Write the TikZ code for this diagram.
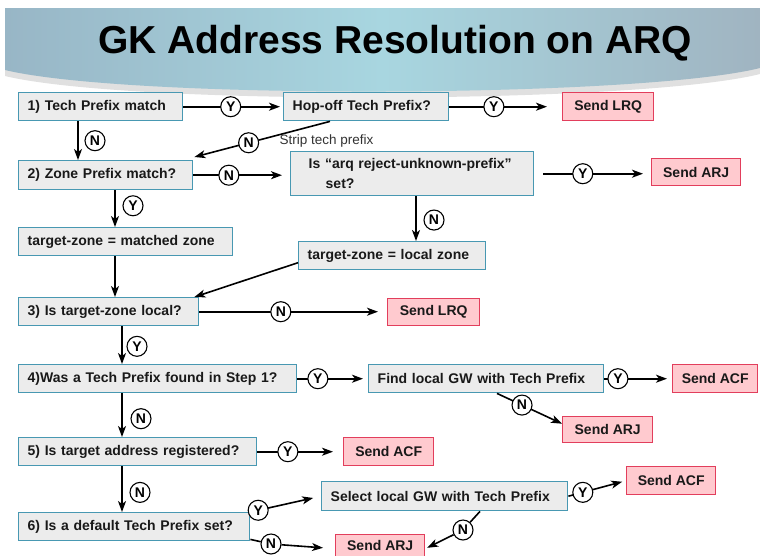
\documentclass[tikz,border=0pt]{standalone}
\usepackage{fontspec}
\setmainfont{Liberation Sans}
\usetikzlibrary{arrows.meta,calc}

\definecolor{boxfill}{RGB}{236,236,236}
\definecolor{boxline}{RGB}{72,152,178}
\definecolor{sendfill}{RGB}{255,202,207}
\definecolor{sendline}{RGB}{226,62,92}
\definecolor{bannerL}{RGB}{152,182,198}
\definecolor{bannerM}{RGB}{168,214,224}
\definecolor{bannerR}{RGB}{160,180,193}
\definecolor{inkgrey}{RGB}{25,25,25}

\newcommand\gkboxfont{\bfseries\fontsize{14}{20}\selectfont}
\newcommand\gktitlefont{\bfseries\fontsize{39}{44}\selectfont}
\newcommand\gkynfont{\bfseries\fontsize{14}{14}\selectfont}
\newcommand\gksmallfont{\fontsize{13.5}{15}\selectfont}

\tikzset{
  gbox/.style={draw=boxline, fill=boxfill, line width=1.4pt, inner xsep=9pt,
    inner ysep=0pt, align=left, font=\gkboxfont, text=inkgrey, anchor=north west},
  rbox/.style={draw=sendline, fill=sendfill, line width=1.4pt, inner sep=0pt,
    font=\gkboxfont, text=inkgrey, anchor=north west},
  yn/.style={circle, draw=black, fill=white, line width=1.1pt, minimum size=20pt,
    inner sep=0pt, font=\gkynfont},
  flow/.style={line width=1.6pt, draw=black},
  arr/.style={flow, -{Stealth[length=11pt,width=8pt,inset=3pt]}},
}

\begin{document}
\begin{tikzpicture}[x=1pt,y=-1pt]
\useasboundingbox (0,0) rectangle (760,555);
\fill[white] (0,0) rectangle (760,555);

% title banner with its soft shadow
\fill[black!12] (5,14) -- (760,14) -- (760,74) .. controls (640,104) and (130,106) .. (5,76) -- cycle;
\shade[left color=bannerL, right color=bannerR, middle color=bannerM]
  (5,8) -- (760,8) -- (760,68) .. controls (640,98) and (130,100) .. (5,70) -- cycle;
\node[font=\gktitlefont, anchor=base] (title) at (395,53) {GK Address Resolution on ARQ};

% decision and action boxes
\node[gbox, text width=146pt, minimum height=28pt] (n1) at (18,92) {1) Tech Prefix match};
\node[gbox, text width=147pt, minimum height=28pt] (hop) at (283,92) {Hop-off Tech Prefix?};
\node[gbox, text width=156pt, minimum height=29pt] (n2) at (18,160) {2) Zone Prefix match?};
\node[gbox, text width=225pt, minimum height=44pt] (arq) at (290,151)
  {\hspace*{9pt}Is “arq reject-unknown-prefix”\\\hspace*{26pt}set?};
\node[gbox, text width=196pt, minimum height=28pt] (mz) at (18,227) {target-zone = matched zone};
\node[gbox, text width=169pt, minimum height=28pt] (lz) at (298,241) {target-zone = local zone};
\node[gbox, text width=162pt, minimum height=28pt] (n3) at (18,297) {3) Is target-zone local?};
\node[gbox, text width=260pt, minimum height=28pt] (n4) at (18,364) {4)Was a Tech Prefix found in Step 1?};
\node[gbox, text width=217pt, minimum height=28pt] (find) at (368,364) {Find local GW with Tech Prefix};
\node[gbox, text width=220pt, minimum height=28pt] (n5) at (18,437) {5) Is target address registered?};
\node[gbox, text width=213pt, minimum height=28pt] (n6) at (18,512) {6) Is a default Tech Prefix set?};
\node[gbox, text width=228pt, minimum height=29pt] (sel) at (321,481) {Select local GW with Tech Prefix};

% outcome boxes
\node[rbox, minimum width=91pt, minimum height=28pt] (lrq1) at (562,92) {Send LRQ};
\node[rbox, minimum width=89pt, minimum height=27pt] (arj1) at (651,158) {Send ARJ};
\node[rbox, minimum width=92pt, minimum height=27pt] (lrq2) at (387,298) {Send LRQ};
\node[rbox, minimum width=85pt, minimum height=28pt] (acf1) at (672,364) {Send ACF};
\node[rbox, minimum width=90pt, minimum height=26pt] (arj2) at (562,416) {Send ARJ};
\node[rbox, minimum width=90pt, minimum height=28pt] (acf2) at (343,437) {Send ACF};
\node[rbox, minimum width=89pt, minimum height=28pt] (acf3) at (626,466) {Send ACF};
\node[rbox, minimum width=89pt, minimum height=22pt] (arj3) at (335,534) {Send ARJ};

% step 1
\draw[arr, shorten >=3pt] (n1.east) -- node[yn, pos=0.475] (c1) {Y} (hop.west);
\draw[arr, shorten >=15pt] (hop.east) -- node[yn, pos=0.395] (c2) {Y} (lrq1.west);
\draw[arr] ([xshift=60pt]n1.south west) -- node[yn, pos=0.5, xshift=17pt] (c3) {N}
  ([xshift=60pt]n2.north west);
\draw[arr] ([xshift=47pt]hop.south west) -- node[yn, pos=0.6] (c4) {N}
  ([xshift=1pt,yshift=3pt]n2.north east);
\node[font=\gksmallfont, text=black!80, anchor=west] (strip) at (276,141) {Strip tech prefix};

% step 2
\draw[arr, shorten >=8pt] (n2.east) -- node[yn, pos=0.367] (c5) {N} (n2.east -| arq.west);
\draw[arr, shorten <=9pt, shorten >=8pt] (arq.east) -- node[yn, pos=0.415] (c6) {Y}
  (arq.east -| arj1.west);
\draw[arr] ([xshift=97pt]n2.south west) -- node[yn, pos=0.42, xshift=18pt] (c7) {Y}
  ([xshift=97pt]mz.north west);
\draw[arr] ([xshift=126pt]arq.south west) -- node[yn, pos=0.53, xshift=18pt] (c8) {N}
  ([xshift=118pt]lz.north west);
\draw[arr] ([xshift=97pt]mz.south west) -- ([xshift=97pt]n3.north west);
\draw[arr] ([yshift=-7pt]lz.west) -- ([xshift=-5pt]n3.north east);

% step 3
\draw[arr, shorten >=9pt] (n3.east) -- node[yn, pos=0.434] (c9) {N} (n3.east -| lrq2.west);
\draw[arr] ([xshift=104pt]n3.south west) -- node[yn, pos=0.53, xshift=15pt] (c10) {Y}
  ([xshift=104pt]n4.north west);

% step 4
\draw[arr, shorten >=5pt] (n4.east) -- node[yn, pos=0.29] (c11) {Y} (find.west);
\draw[arr, shorten >=5pt] (find.east) -- node[yn, pos=0.2] (c12) {Y} (acf1.west);
\draw[arr] ([xshift=129pt]find.south west) -- node[yn, pos=0.385] (c13) {N}
  ([yshift=6pt]arj2.west);
\draw[arr] ([xshift=104pt]n4.south west) -- node[yn, pos=0.58, xshift=19pt] (c14) {N}
  ([xshift=104pt]n5.north west);

% step 5
\draw[arr, shorten >=10pt] (n5.east) -- node[yn, pos=0.356] (c15) {Y} (acf2.west);
\draw[arr] ([xshift=104pt]n5.south west) -- node[yn, pos=0.57, xshift=18pt] (c16) {N}
  ([xshift=104pt]n6.north west);

% step 6
\draw[arr, shorten >=8pt] (n6.north east) -- node[yn, pos=0.11] (c17) {Y} (sel.west);
\node[yn] (c18) at (271,544) {N};
\draw[flow] ([yshift=2pt]n6.south east) -- (c18);
\draw[arr, shorten >=12pt] (c18) -- ([yshift=-3pt]arj3.west);
\draw[arr, shorten >=4pt] (sel.east) -- node[yn, pos=0.25] (c19) {Y} (acf3.west);
\node[yn] (c20) at (463,530) {N};
\draw[flow] ([xshift=159pt]sel.south west) -- (c20);
\draw[arr, shorten >=2pt] (c20) -- ([yshift=-3pt]arj3.east);
\end{tikzpicture}
\end{document}
